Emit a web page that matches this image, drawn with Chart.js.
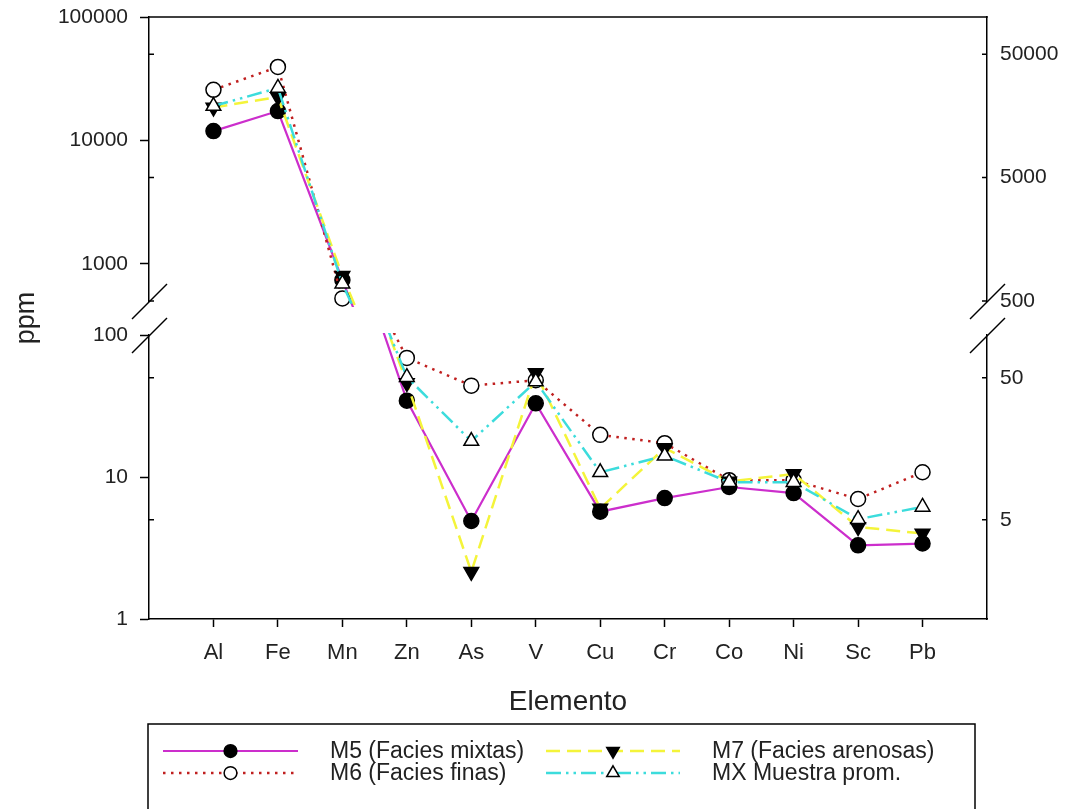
<!DOCTYPE html>
<html>
<head>
<meta charset="utf-8">
<script src="https://cdn.jsdelivr.net/npm/chart.js@4.4.1/dist/chart.umd.min.js"></script>
<style>
  html, body { margin: 0; padding: 0; background: #fff; }
  #wrap { position: relative; width: 1070px; height: 809px; }
</style>
</head>
<body>
<div id="wrap"><canvas id="chart"></canvas></div>
<script>
// elementos analizados (eje x)
const ELEMENTOS = ['Al', 'Fe', 'Mn', 'Zn', 'As', 'V', 'Cu', 'Cr', 'Co', 'Ni', 'Sc', 'Pb'];

// concentraciones en ppm por muestra
const M5 = [11900, 17300, 740, 34.5, 4.9, 33, 5.7, 7.1, 8.5, 7.7, 3.3, 3.4];
const M6 = [25700, 39400, 525, 69, 44, 48, 19.8, 17.3, 9.5, 9.5, 7.0, 10.8];
const M7 = [18500, 22500, 800, 46, 2.15, 54, 6.0, 16.0, 9.3, 10.5, 4.45, 4.0];
const MX = [19000, 26600, 690, 50.5, 17.9, 47, 10.8, 14.1, 9.2, 9.2, 5.05, 6.15];

// eje y partido: tramo superior e inferior
const RANGO_SUP = [500, 100000];
const RANGO_INF = [1, 100];
const TICKS_IZQ_SUP = [1000, 10000, 100000];
const TICKS_IZQ_INF = [1, 10, 100];
const TICKS_DER_SUP = [500, 5000, 50000];
const TICKS_DER_INF = [5, 50];

const NEGRO = '#000';
const TEXTO = '#222';
const FAMILIA = "'Liberation Sans', Arial, sans-serif";
Chart.defaults.font.family = FAMILIA;
Chart.defaults.color = TEXTO;

// order: M5 queda debajo, MX encima
const SERIES = [
  { label: 'M5 (Facies mixtas)', data: M5, color: '#cc2ecc', dash: [], width: 2.2, style: 'circle', rot: 0, r: 7.5, fill: NEGRO, order: 4 },
  { label: 'M6 (Facies finas)', data: M6, color: '#c02020', dash: [2.5, 5.5], width: 2.5, style: 'circle', rot: 0, r: 7.5, fill: '#fff', order: 3 },
  { label: 'M7 (Facies arenosas)', data: M7, color: '#f4f43a', dash: [14, 7], width: 2.5, style: 'triangle', rot: 180, r: 8.5, fill: NEGRO, order: 2 },
  { label: 'MX Muestra prom.', data: MX, color: '#3cdcdc', dash: [15, 5, 2.5, 5, 2.5, 5], width: 2.5, style: 'triangle', rot: 0, r: 8.5, fill: '#fff', order: 1 },
];

// cada serie se dibuja dos veces, una por tramo del eje, y se recorta a su tramo
const datasets = [];
['ySup', 'yInf'].forEach(eje => {
  SERIES.forEach(s => {
    datasets.push({
      label: s.label,
      data: s.data.map((v, i) => ({ x: i + 1, y: v })),
      yAxisID: eje,
      order: s.order,
      borderColor: s.color,
      borderDash: s.dash,
      borderWidth: s.width,
      pointStyle: s.style,
      pointRotation: s.rot,
      pointRadius: s.r,
      pointHoverRadius: s.r,
      pointBackgroundColor: s.fill,
      pointBorderColor: NEGRO,
      pointBorderWidth: 1.5,
      tension: 0,
      fill: false,
      clip: false,
    });
  });
});

const fijarTicks = lista => s => { s.ticks = lista.map(v => ({ value: v })); };
const anchoEje = pos => s => {
  s.width = pos === 'left' ? 149 : 83;
  s.paddingTop = 0;
  s.paddingBottom = 0;
};

function ejeLog(pos, rango, ticks, peso, conMarcas) {
  return {
    type: 'logarithmic', position: pos, stack: pos, stackWeight: 284, weight: peso,
    min: rango[0], max: rango[1],
    afterBuildTicks: fijarTicks(ticks),
    ticks: { callback: v => String(v), font: { size: 21 }, color: TEXTO, padding: conMarcas ? 12 : 13, autoSkip: false },
    grid: conMarcas
      ? { drawOnChartArea: false, tickLength: 9, tickColor: NEGRO, tickWidth: 1.5 }
      : { display: false, drawTicks: false },
    border: { color: NEGRO, width: 1.5 },
    afterFit: anchoEje(pos),
  };
}

function ejeHueco(pos, peso, titulo) {
  return {
    type: 'linear', position: pos, stack: pos, stackWeight: 34, weight: peso,
    min: 0, max: 1, display: true,
    ticks: { display: false },
    grid: { display: false, drawTicks: false },
    border: { display: false },
    title: { display: !!titulo, text: titulo || '', font: { size: 27 }, color: TEXTO, padding: { top: 10, bottom: 0 } },
    afterFit: anchoEje(pos),
  };
}

// recorta cada dataset al tramo de su eje y
const recorte = {
  id: 'recorte',
  beforeDatasetDraw(chart, args) {
    const ds = chart.data.datasets[args.index];
    const s = chart.scales[ds.yAxisID];
    const a = chart.chartArea;
    const ctx = chart.ctx;
    ctx.save();
    ctx.beginPath();
    if (ds.yAxisID === 'ySup') ctx.rect(a.left - 30, 0, a.width + 60, s.bottom + 6);
    else ctx.rect(a.left - 30, s.top - 2, a.width + 60, chart.height);
    ctx.clip();
  },
  afterDatasetDraw(chart) { chart.ctx.restore(); },
};

// marco superior, marcas interiores, cortes del eje y leyenda
const decoracion = {
  id: 'decoracion',
  afterDraw(chart) {
    const ctx = chart.ctx;
    const a = chart.chartArea;
    const sc = chart.scales;
    ctx.save();
    ctx.strokeStyle = NEGRO;
    ctx.lineWidth = 1.5;
    ctx.beginPath();
    ctx.moveTo(a.left - 0.75, a.top);
    ctx.lineTo(a.right + 0.75, a.top);
    ctx.stroke();

    // marcas interiores en 5·10^n
    [['ySup', TICKS_DER_SUP], ['yInf', TICKS_DER_INF]].forEach(([id, lista]) => {
      lista.forEach(v => {
        const y = sc[id].getPixelForValue(v);
        ctx.beginPath();
        ctx.moveTo(a.left, y); ctx.lineTo(a.left + 5, y);
        ctx.moveTo(a.right, y); ctx.lineTo(a.right - 5, y);
        ctx.stroke();
      });
    });

    // cortes del eje y
    const yCorte = [sc.ySup.bottom, sc.yInf.top];
    [a.left, a.right].forEach(x => {
      yCorte.forEach(y => {
        ctx.beginPath();
        ctx.moveTo(x - 17, y + 18);
        ctx.lineTo(x + 18, y - 17);
        ctx.stroke();
      });
    });

    // leyenda
    const caja = { x: 148, y: 724, w: 827, h: 100 };
    ctx.lineWidth = 1.5;
    ctx.strokeRect(caja.x, caja.y, caja.w, caja.h);
    const cols = [{ x0: 163, x1: 298, tx: 330 }, { x0: 546, x1: 680, tx: 712 }];
    const filas = [751, 773];
    const pos = [[0, 0], [0, 1], [1, 0], [1, 1]];
    ctx.font = '23px ' + FAMILIA;
    ctx.textBaseline = 'middle';
    SERIES.forEach((s, i) => {
      const c = cols[pos[i][0]], y = filas[pos[i][1]];
      ctx.save();
      ctx.strokeStyle = s.color;
      ctx.lineWidth = s.width;
      ctx.setLineDash(s.dash);
      ctx.beginPath();
      ctx.moveTo(c.x0, y); ctx.lineTo(c.x1, y);
      ctx.stroke();
      ctx.restore();
      ctx.fillStyle = s.fill;
      ctx.strokeStyle = NEGRO;
      ctx.lineWidth = 1.5;
      Chart.helpers.drawPoint(ctx, { pointStyle: s.style, rotation: s.rot, radius: s.r * 0.85, borderWidth: 1.5 }, (c.x0 + c.x1) / 2, y);
      ctx.fillStyle = TEXTO;
      ctx.fillText(s.label, c.tx, y + 1);
    });
    ctx.restore();
  },
};

new Chart(document.getElementById('chart'), {
  type: 'line',
  data: { datasets },
  plugins: [recorte, decoracion],
  options: {
    responsive: true,
    maintainAspectRatio: false,
    animation: false,
    layout: { padding: { left: 0, right: 0, top: 17, bottom: 90 } },
    plugins: { legend: { display: false }, tooltip: { enabled: false } },
    scales: {
      x: {
        type: 'linear', position: 'bottom', min: 0, max: 13,
        afterBuildTicks: fijarTicks(ELEMENTOS.map((_, i) => i + 1)),
        ticks: { callback: v => ELEMENTOS[v - 1], font: { size: 22 }, color: TEXTO, padding: 13, autoSkip: false, maxRotation: 0 },
        grid: { drawOnChartArea: false, tickLength: 8, tickColor: NEGRO, tickWidth: 1.5 },
        border: { color: NEGRO, width: 1.5 },
        title: { display: true, text: 'Elemento', font: { size: 28 }, color: TEXTO, padding: 0 },
        afterFit: s => { s.height = 100; s.paddingLeft = 0; s.paddingRight = 0; },
      },
      ySup: ejeLog('left', RANGO_SUP, TICKS_IZQ_SUP, 3, true),
      yHuecoIzq: ejeHueco('left', 2, 'ppm'),
      yInf: ejeLog('left', RANGO_INF, TICKS_IZQ_INF, 1, true),
      ySupDer: ejeLog('right', RANGO_SUP, TICKS_DER_SUP, 1, false),
      yHuecoDer: ejeHueco('right', 2, ''),
      yInfDer: ejeLog('right', RANGO_INF, TICKS_DER_INF, 3, false),
    },
  },
});
</script>
</body>
</html>
